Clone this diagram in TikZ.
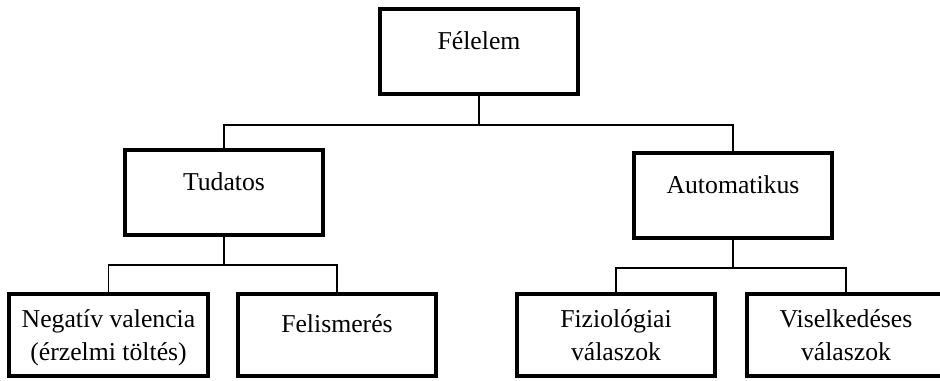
\documentclass[tikz,border=0pt]{standalone}
\usepackage{fontspec}
\setmainfont{Liberation Serif}
\usetikzlibrary{positioning,calc}

\begin{document}
\begin{tikzpicture}[
  x=0.25mm, y=-0.25mm,
  box/.style={draw=black, line width=1mm, align=center, minimum width=49.5mm, minimum height=21.25mm, inner sep=0pt, text height=10.25mm, text depth=11mm, font=\fontsize{18.3}{23.5}\selectfont},
  lowbox/.style={box, minimum height=20.5mm, text height=9.75mm, text depth=10.75mm},
  pairbox/.style={lowbox, text height=16.75mm, text depth=3.75mm},
  link/.style={line width=0.4mm, draw=black}
]
\useasboundingbox (0,0) rectangle (940,381);
\node[box] (fel) at (479,51.5) {Félelem};
\node[box] (tud) at (224,192.5) {Tudatos};
\node[box] (aut) at (733,195.5) {Automatikus};
\node[pairbox] (neg) at (108.5,335) {Negatív valencia\\(érzelmi töltés)};
\node[lowbox] (felis) at (337,335) {Felismerés};
\node[pairbox] (fiz) at (616,335) {Fiziológiai\\válaszok};
\node[pairbox] (vis) at (846,335) {Viselkedéses\\válaszok};

\coordinate (hub) at ($(fel.south)+(0,29)$);
\draw[link] (fel.south) -- (hub);
\draw[link] (tud.north) |- (hub) -| (aut.north);

\coordinate (lefthub) at ($(tud.south)+(0,28)$);
\draw[link] (tud.south) -- (lefthub);
\draw[link] (neg.north) |- (lefthub) -| (felis.north);

\coordinate (righthub) at ($(aut.south)+(0,28)$);
\draw[link] (aut.south) -- (righthub);
\draw[link] (fiz.north) |- (righthub) -| (vis.north);
\end{tikzpicture}
\end{document}
